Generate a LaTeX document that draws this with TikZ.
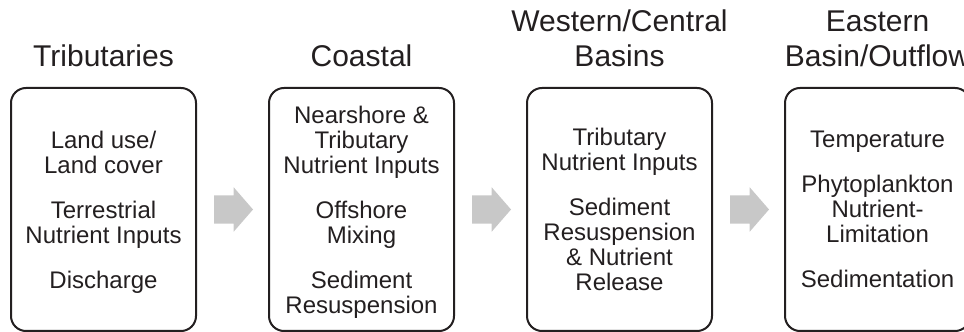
\documentclass[tikz,border=0pt]{standalone}
\usepackage{fontspec}
\setmainfont{Liberation Sans}
\usetikzlibrary{positioning, shapes.arrows}
\definecolor{boxline}{HTML}{231F20}
\definecolor{arrowgray}{HTML}{C8C8C8}

\begin{document}
\begin{tikzpicture}[x=1pt, y=1pt, node distance = 15pt, text=boxline,
	zone/.style={draw=boxline, line width=2pt, rounded corners=15pt, minimum width=185pt, minimum height=243pt, align=center, inner sep=0pt, text depth=0pt, font=\fontsize{24}{25}\selectfont},
	zonetitle/.style={align=center, inner sep=0pt, text depth=0pt, font=\fontsize{30}{35}\selectfont},
	flow/.style={single arrow, fill=arrowgray, draw=none, minimum height=39pt, inner xsep=0pt, inner ysep=14pt, outer sep=0pt, single arrow head extend=8pt, single arrow tip angle=98, single arrow head indent=0pt}]
	\useasboundingbox (0,0) rectangle (964,332);
	
	\node[zone] (trib) at (103.5,122.5) {Land use/\\Land cover\\[20pt]Terrestrial\\Nutrient Inputs\\[20pt]Discharge};
	\node[flow, right=17pt of trib] (arrow1) {};
	\node[zone, right=of arrow1] (coast) {Nearshore \&\\Tributary\\Nutrient Inputs\\[20pt]Offshore\\Mixing\\[20pt]Sediment\\Resuspension};
	\node[flow, right=17pt of coast] (arrow2) {};
	\node[zone, right=of arrow2] (west) {Tributary\\Nutrient Inputs\\[20pt]Sediment\\Resuspension\\\& Nutrient\\Release};
	\node[flow, right=17pt of west] (arrow3) {};
	\node[zone, right=of arrow3] (east) {Temperature\\[20pt]Phytoplankton\\Nutrient-\\Limitation\\[20pt]Sedimentation};
	
	% titles
	\node[zonetitle, above=20pt of trib] (tribTitle) {Tributaries};
	\node[zonetitle, above=20pt of coast] (coastTitle) {Coastal};
	\node[zonetitle, above=20pt of west] (westTitle) {Western/Central\\Basins};
	\node[zonetitle, above=20pt of east] (eastTitle) {Eastern\\Basin/Outflow};
\end{tikzpicture}
\end{document}
